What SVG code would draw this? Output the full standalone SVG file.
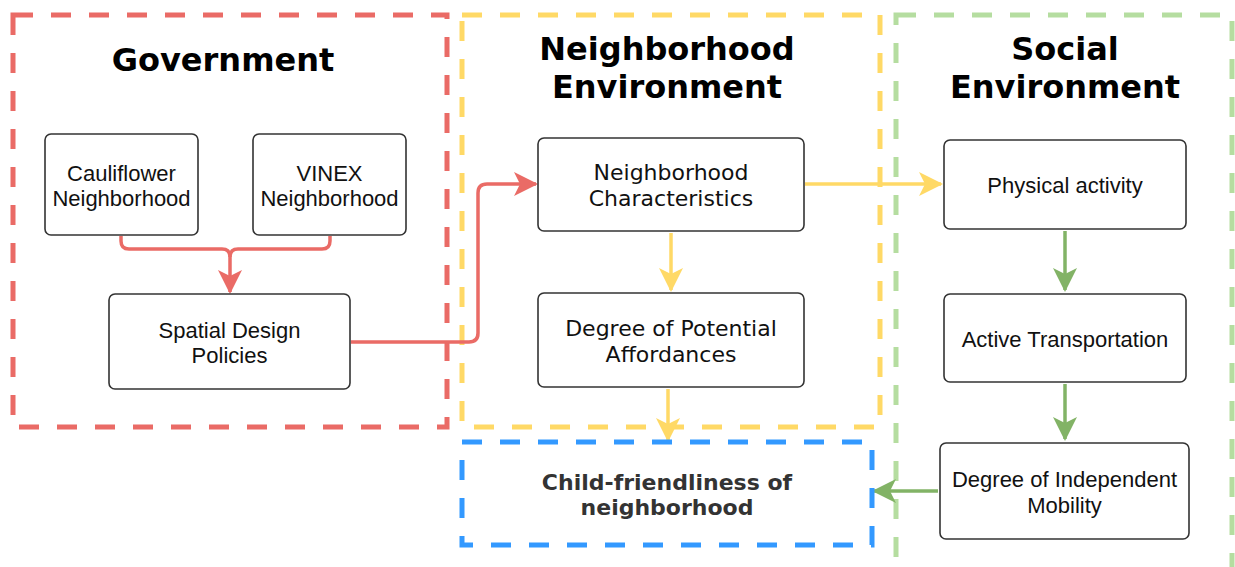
<svg xmlns="http://www.w3.org/2000/svg" width="1235" height="567" viewBox="0 0 1235 567">
  <style>
    .zone { fill: none; stroke-width: 5; stroke-dasharray: 20 18; }
    .box { fill: #ffffff; stroke: #333333; stroke-width: 1.6; }
    .title { font-family: "DejaVu Sans", Verdana, sans-serif; font-weight: bold; font-size: 32px; fill: #000; text-anchor: middle; }
    .lbl { font-family: "Liberation Sans", Arial, Helvetica, sans-serif; font-size: 22px; fill: #111; text-anchor: middle; }
    .lblv { font-family: "DejaVu Sans", Verdana, sans-serif; font-size: 22px; fill: #111; text-anchor: middle; }
    .goal { font-family: "DejaVu Sans", Verdana, sans-serif; font-weight: bold; font-size: 22px; fill: #333; text-anchor: middle; }
    .conn { fill: none; stroke-width: 3.5; stroke-linejoin: round; }
  </style>
  <defs>
    <marker id="arrRed" markerUnits="userSpaceOnUse" markerWidth="24" markerHeight="24" refX="22" refY="12" orient="auto">
      <path d="M0,0 L24,12 L0,24 L6,12 Z" fill="#EA6B66"/>
    </marker>
    <marker id="arrYellow" markerUnits="userSpaceOnUse" markerWidth="24" markerHeight="24" refX="22" refY="12" orient="auto">
      <path d="M0,0 L24,12 L0,24 L6,12 Z" fill="#FFD966"/>
    </marker>
    <marker id="arrGreen" markerUnits="userSpaceOnUse" markerWidth="24" markerHeight="24" refX="22" refY="12" orient="auto">
      <path d="M0,0 L24,12 L0,24 L6,12 Z" fill="#82B366"/>
    </marker>
  </defs>

  <rect width="1235" height="567" fill="#ffffff"/>

  <!-- dashed zones -->
  <g id="zones">
    <rect id="zone-government" class="zone" stroke="#EA6B66" x="13" y="15" width="434" height="412"/>
    <rect id="zone-neighborhood" class="zone" stroke="#FFD966" x="462" y="15" width="418" height="412"/>
    <rect id="zone-social" class="zone" stroke="#B5DDA0" x="896" y="15" width="336" height="600"/>
  </g>

  <!-- zone titles -->
  <g id="titles">
    <text class="title" x="223" y="71">Government</text>
    <text class="title" x="667" y="60">Neighborhood</text>
    <text class="title" x="667" y="98">Environment</text>
    <text class="title" x="1065" y="60">Social</text>
    <text class="title" x="1065" y="98">Environment</text>
  </g>

  <!-- connectors -->
  <g id="connectors">
    <path class="conn" stroke="#EA6B66" d="M121,236 L121,241 Q121,249 129,249 L222,249 Q230,249 230,257 L230,292" marker-end="url(#arrRed)"/>
    <path class="conn" stroke="#EA6B66" d="M330,236 L330,241 Q330,249 322,249 L238,249 Q230,249 230,257"/>
    <path class="conn" stroke="#EA6B66" d="M351,342 L469,342 Q478,342 478,333 L478,193 Q478,184 487,184 L536,184" marker-end="url(#arrRed)"/>
    <path class="conn" stroke="#FFD966" d="M805,184 L941,184" marker-end="url(#arrYellow)"/>
    <path class="conn" stroke="#FFD966" d="M671,233 L671,290" marker-end="url(#arrYellow)"/>
    <path class="conn" stroke="#FFD966" d="M668,389 L668,440" marker-end="url(#arrYellow)"/>
    <path class="conn" stroke="#82B366" d="M1065,231 L1065,290" marker-end="url(#arrGreen)"/>
    <path class="conn" stroke="#82B366" d="M1065,384 L1065,439" marker-end="url(#arrGreen)"/>
    <path class="conn" stroke="#82B366" d="M938,491 L874,491" marker-end="url(#arrGreen)"/>
  </g>

  <!-- nodes -->
  <g id="node-cauliflower">
    <rect class="box" x="45" y="134" width="153" height="101" rx="6"/>
    <text class="lbl" x="121.5" y="181">Cauliflower</text>
    <text class="lbl" x="121.5" y="206">Neighborhood</text>
  </g>
  <g id="node-vinex">
    <rect class="box" x="253" y="134" width="153" height="101" rx="6"/>
    <text class="lbl" x="329.5" y="181">VINEX</text>
    <text class="lbl" x="329.5" y="206">Neighborhood</text>
  </g>
  <g id="node-spatial">
    <rect class="box" x="109" y="294" width="241" height="95" rx="6"/>
    <text class="lbl" x="229.5" y="338">Spatial Design</text>
    <text class="lbl" x="229.5" y="363">Policies</text>
  </g>
  <g id="node-characteristics">
    <rect class="box" x="538" y="138" width="266" height="93" rx="6"/>
    <text class="lblv" x="671" y="180">Neighborhood</text>
    <text class="lblv" x="671" y="206">Characteristics</text>
  </g>
  <g id="node-affordances">
    <rect class="box" x="538" y="293" width="266" height="94" rx="6"/>
    <text class="lblv" x="671" y="336">Degree of Potential</text>
    <text class="lblv" x="671" y="362">Affordances</text>
  </g>
  <g id="node-physical">
    <rect class="box" x="944" y="140" width="242" height="89" rx="6"/>
    <text class="lbl" x="1065" y="193">Physical activity</text>
  </g>
  <g id="node-transport">
    <rect class="box" x="944" y="294" width="242" height="88" rx="6"/>
    <text class="lbl" x="1065" y="347">Active Transportation</text>
  </g>
  <g id="node-mobility">
    <rect class="box" x="940" y="443" width="249" height="96" rx="6"/>
    <text class="lbl" x="1064.5" y="487">Degree of Independent</text>
    <text class="lbl" x="1064.5" y="513">Mobility</text>
  </g>
  <g id="node-child-friendliness">
    <rect class="zone" stroke="#3399FF" x="462" y="442" width="410" height="103"/>
    <text class="goal" x="667" y="490">Child-friendliness of</text>
    <text class="goal" x="667" y="515">neighborhood</text>
  </g>
</svg>
